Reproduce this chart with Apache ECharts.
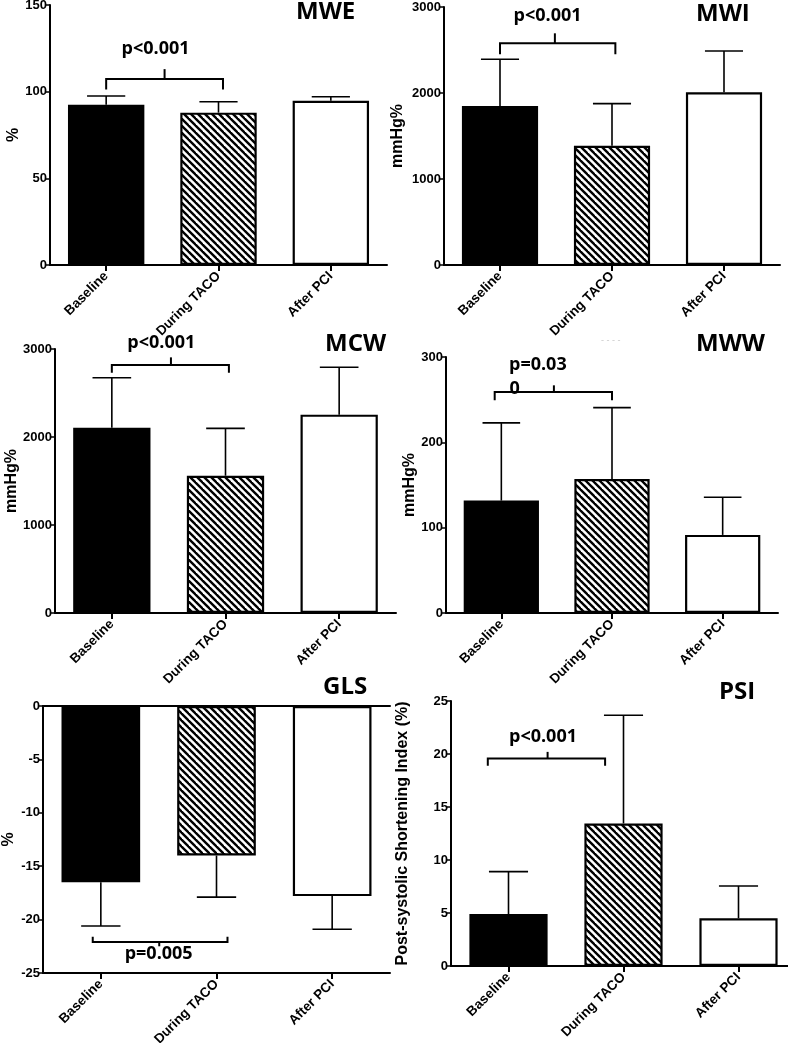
<!DOCTYPE html>
<html>
<head>
<meta charset="utf-8">
<script src="https://cdn.jsdelivr.net/npm/echarts@6/dist/echarts.min.js"></script>
<style>
html,body{margin:0;padding:0;background:#fff;}
#chart{width:788px;height:1043px;}
</style>
</head>
<body>
<div id="chart"></div>
<script>
// ---------- data ----------
const categories = ['Baseline', 'During TACO', 'After PCI'];

const mweMean = [92.5, 87.9, 94.8];
const mweSD   = [5.0, 6.3, 2.3];
const mwiMean = [1849, 1387, 2008];
const mwiSD   = [543, 489, 480];
const mcwMean = [2106, 1560, 2254];
const mcwSD   = [568, 538, 538];
const mwwMean = [131.7, 157, 91.5];
const mwwSD   = [91.1, 83.7, 44.1];
const glsMean = [-16.5, -14.0, -17.8];
const glsSD   = [4.1, 3.9, 3.1];
const psiMean = [4.9, 13.45, 4.5];
const psiSD   = [4.0, 10.2, 3.05];

const titles = ['MWE', 'MWI', 'MCW', 'MWW', 'GLS', 'PSI'];
const yNames = ['%', 'mmHg%', 'mmHg%', 'mmHg%', '%', 'Post-systolic Shortening Index (%)'];
const yMin = [0, 0, 0, 0, -25, 0];
const yMax = [150, 3000, 3000, 300, 0, 25];
const yStep = [50, 1000, 1000, 100, 5, 5];

// significance brackets: [x1, x2, xTip (category units), yLine, yEnd, yTip]
const brackets = [
  [0, 1.04, 0.52, 107.3, 101.3, 113],
  [0, 1.03, 0.49, 2578, 2450, 2694],
  [0, 1.03, 0.52, 2818, 2730, 2905],
  [-0.06, 1.0, 0.475, 259, 249.4, 266.8],
  [-0.07, 1.095, 0.505, -22.1, -21.6, -22.5],
  [-0.18, 0.84, 0.34, 19.57, 18.9, 20.2]
];
// p-value labels: [text, x (category units), y (value)]
const pLabels = [
  [['p<0.001', 0.44, 119.4]],
  [['p<0.001', 0.425, 2791]],
  [['p<0.001', 0.435, 2969]],
  [['p=0.03', 0.33, 280.8], ['0', 0.12, 251.6]],
  [['p=0.005', 0.5, -24.06]],
  [['p<0.001', 0.3, 20.8]]
];

const means = [mweMean, mwiMean, mcwMean, mwwMean, glsMean, psiMean];
const sds = [mweSD, mwiSD, mcwSD, mwwSD, glsSD, psiSD];

// ---------- layout ----------
const grids = [
  {left: 50, top: 5, width: 337, height: 260},
  {left: 444, top: 7, width: 336, height: 258},
  {left: 55, top: 349, width: 341, height: 264},
  {left: 446, top: 357, width: 332, height: 256},
  {left: 43, top: 706, width: 347, height: 267},
  {left: 451, top: 701, width: 345, height: 265}
];
const yNameGap = [28, 38, 27, 27, 26, 40];
const titlePos = [[296, 0], [696, 2], [325, 332], [696, 332], [323, 675], [719, 680]];

// hatch pattern
function makeHatch() {
  const s = 7;
  const c = document.createElement('canvas');
  c.width = s; c.height = s;
  const ctx = c.getContext('2d');
  ctx.fillStyle = '#fff';
  ctx.fillRect(0, 0, s, s);
  ctx.strokeStyle = '#000';
  ctx.lineWidth = 2.4;
  for (const off of [-s, 0, s]) {
    ctx.beginPath();
    ctx.moveTo(-2, off - 2);
    ctx.lineTo(s + 2, off + s + 2);
    ctx.stroke();
  }
  return c;
}
const hatch = makeHatch();
const fills = ['#000', {image: hatch, repeat: 'repeat'}, '#fff'];

const chart = echarts.init(document.getElementById('chart'), null, {renderer: 'canvas'});

const option = {
  animation: false,
  backgroundColor: '#fff',
  grid: grids.map(g => Object.assign({containLabel: false, outerBoundsMode: 'none'}, g)),
  title: titles.map((t, i) => ({
    text: t, left: titlePos[i][0], top: titlePos[i][1], padding: 0,
    textStyle: {fontFamily: 'Open Sans', fontWeight: 'bold', fontSize: 24, color: '#000'}
  })),
  xAxis: [],
  yAxis: [],
  series: []
};

for (let i = 0; i < 6; i++) {
  option.xAxis.push({
    type: 'category', gridIndex: i, data: categories,
    position: 'bottom',
    axisLine: {show: true, onZero: false, lineStyle: {color: '#000', width: 2}},
    axisTick: {show: true, alignWithLabel: true, length: 6, lineStyle: {color: '#000', width: 2}},
    axisLabel: {rotate: 45, margin: 9, color: '#000', fontFamily: 'Liberation Sans', fontWeight: 'bold', fontSize: 13.5, interval: 0},
    splitLine: {show: false}
  });
  option.yAxis.push({
    type: 'value', gridIndex: i, min: yMin[i], max: yMax[i], interval: yStep[i],
    name: yNames[i], nameLocation: 'middle', nameGap: yNameGap[i], nameRotate: 90,
    nameTextStyle: {color: '#000', fontFamily: 'Liberation Sans', fontWeight: 'bold', fontSize: 16},
    axisLine: {show: true, lineStyle: {color: '#000', width: 2}},
    axisTick: {show: true, length: 5, lineStyle: {color: '#000', width: 1.5}},
    axisLabel: {color: '#000', fontFamily: 'Liberation Sans', fontWeight: 'bold', fontSize: 13, margin: 3,
      formatter: v => String(v)},
    splitLine: {show: false}
  });
}
// extra top line for GLS (zero line)
option.xAxis.push({
  type: 'category', gridIndex: 4, data: categories, position: 'top',
  axisLine: {show: true, onZero: false, lineStyle: {color: '#000', width: 2}},
  axisTick: {show: false}, axisLabel: {show: false}, splitLine: {show: false}
});

for (let i = 0; i < 6; i++) {
  const m = means[i], sd = sds[i];
  option.series.push({
    type: 'bar', xAxisIndex: i, yAxisIndex: i, barWidth: '68%',
    data: m.map((v, k) => ({value: v, itemStyle: {color: fills[k], borderColor: '#000', borderWidth: 2.2}})),
    z: 2
  });
  // error bars
  option.series.push({
    type: 'custom', xAxisIndex: i, yAxisIndex: i, clip: false, z: 3,
    data: m.map((v, k) => [k, v + (v < 0 ? -sd[k] : sd[k])]),
    renderItem: function (params, api) {
      const k = params.dataIndex;
      const v = m[k];
      const p0 = api.coord([k, v]);
      const p1 = api.coord([k, api.value(1)]);
      const half = api.size([1, 0])[0] * 0.17;
      const st = {stroke: '#000', lineWidth: 1.6};
      return {type: 'group', children: [
        {type: 'line', shape: {x1: p0[0], y1: p0[1], x2: p1[0], y2: p1[1]}, style: st},
        {type: 'line', shape: {x1: p1[0] - half, y1: p1[1], x2: p1[0] + half, y2: p1[1]}, style: st}
      ]};
    }
  });
  // bracket + p labels
  const b = brackets[i];
  const labs = pLabels[i];
  option.series.push({
    type: 'custom', xAxisIndex: i, yAxisIndex: i, clip: false, z: 4,
    data: [[0, b[3]]],
    renderItem: function (params, api) {
      const base = api.coord([0, b[3]]);
      const band = api.size([1, 0])[0];
      const X = f => base[0] + f * band;
      const Y = v => api.coord([0, v])[1];
      const st = {stroke: '#000', lineWidth: 2, fill: null};
      const yl = Y(b[3]), ye = Y(b[4]), yt = Y(b[5]);
      const children = [
        {type: 'polyline', shape: {points: [[X(b[0]), ye], [X(b[0]), yl], [X(b[1]), yl], [X(b[1]), ye]]}, style: st},
        {type: 'line', shape: {x1: X(b[2]), y1: yl, x2: X(b[2]), y2: yt}, style: st}
      ];
      labs.forEach(l => {
        children.push({type: 'text', x: X(l[1]), y: Y(l[2]), style: {
          text: l[0], fill: '#000', font: 'bold 18px "Open Sans"', textAlign: 'center', textVerticalAlign: 'bottom'
        }});
      });
      return {type: 'group', children: children};
    }
  });
}

option.graphic = [{
  type: 'text', left: 601, top: 336,
  style: {text: '- - - -', fill: '#c8c8c8', font: '9px "Liberation Sans"'}
}];

chart.setOption(option);
</script>
</body>
</html>
